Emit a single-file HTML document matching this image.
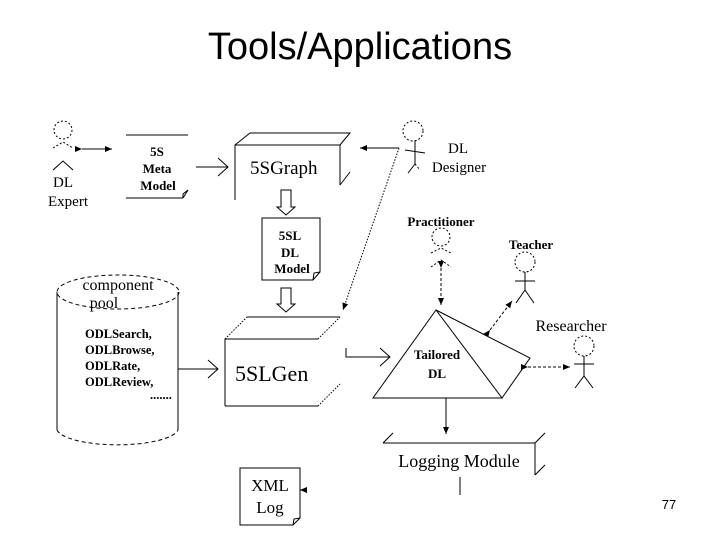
<!DOCTYPE html>
<html><head><meta charset="utf-8"><style>
html,body{margin:0;padding:0;background:#fff;width:720px;height:540px;overflow:hidden}
</style></head><body>
<svg width="720" height="540" viewBox="0 0 720 540" xmlns="http://www.w3.org/2000/svg">
<defs>
<marker id="a" markerWidth="8" markerHeight="8" refX="7" refY="4" orient="auto" markerUnits="userSpaceOnUse"><path d="M0,1 L7,4 L0,7 z" fill="#000"/></marker>
<marker id="o" markerWidth="14" markerHeight="20" refX="11" refY="10" orient="auto" markerUnits="userSpaceOnUse"><path d="M1,1 L11,10 L1,19" fill="none" stroke="#000"/></marker>
</defs>
<text x="360" y="59" font-family="Liberation Sans, sans-serif" font-size="38" text-anchor="middle">Tools/Applications</text>
<g fill="none" stroke="#000" stroke-width="1">
<circle cx="63" cy="130" r="9" stroke-dasharray="2,2"/>
<path d="M53,148 L63,142 L73,148" stroke-dasharray="2,2"/>
<path d="M53,170 L63,161 L73,170"/>
<line x1="82" y1="149" x2="112" y2="149" marker-end="url(#a)" marker-start="url(#a)"/>
<line x1="126" y1="135" x2="188" y2="135"/>
<line x1="126" y1="198" x2="183" y2="198"/>
<path d="M183,198 L188,190 M183,198 L183,194 L188,190" />
<line x1="196" y1="167" x2="228" y2="167" marker-end="url(#o)"/>
<path d="M235,200 L235,145 L340,145 L340,185"/>
<path d="M235,145 L250,133 L350,133 L340,145"/>
<path d="M340,185 L350,172"/>
<path d="M281,190 L291,190 L291,207 L295,207 L286,215 L277,207 L281,207 z"/>
<circle cx="413" cy="131" r="10" stroke-dasharray="2,2"/>
<path d="M415,141 L415,164 M405,150 L425,153 M415,164 L408,173"/>
<path d="M415,164 L420,170" stroke-dasharray="2,2"/>
<line x1="399" y1="148" x2="360" y2="148" marker-end="url(#a)"/>
<line x1="399" y1="148" x2="343" y2="310" stroke-dasharray="1.5,1.5" marker-end="url(#a)"/>
<path d="M262,218 L320,218 L320,272 L313,280 L262,280 z"/>
<path d="M313,280 L314,273 L320,272"/>
<path d="M281,288 L291,288 L291,304 L295,304 L286,312 L277,304 L281,304 z"/>
<path d="M225,406 L225,339 L318,339 M225,406 L318,406 M247,317 L340,317"/>
<path d="M225,339 L247,317 M318,339 L340,317 M318,406 L340,384" stroke-dasharray="1.5,1.5"/>
<path d="M57,292 L57,430 M178,292 L178,430"/>
<ellipse cx="118" cy="292" rx="61" ry="17" stroke-dasharray="4,3"/>
<path d="M57,430 A61,17 0 0 0 178,430" stroke-dasharray="4,3"/>
<line x1="178" y1="369" x2="218" y2="369" marker-end="url(#o)"/>
<circle cx="441" cy="237" r="9" stroke-dasharray="2,2"/>
<path d="M431,253 L441,248 L451,253" stroke-dasharray="2,2"/>
<path d="M431,267 L441,260 L451,267" stroke-dasharray="2,2"/>
<line x1="441" y1="268" x2="441" y2="305" stroke-dasharray="3,2" marker-end="url(#a)" marker-start="url(#a)"/>
<circle cx="525" cy="262" r="10" stroke-dasharray="2,2"/>
<path d="M525,272 L525,290 M515,281 L535,281 M525,290 L516,303 M525,290 L534,303"/>
<line x1="490" y1="330" x2="512" y2="301" stroke-dasharray="3,2" marker-end="url(#a)" marker-start="url(#a)"/>
<circle cx="584" cy="346" r="10" stroke-dasharray="2,2"/>
<path d="M584,356 L584,376 M574,364 L594,364 M584,376 L575,388 M584,376 L593,388"/>
<line x1="528" y1="367" x2="570" y2="367" stroke-dasharray="3,2" marker-end="url(#a)" marker-start="url(#a)"/>
<path d="M436,310 L373,398 L502,398 z"/>
<path d="M436,310 L530,358 L502,398"/>
<path d="M346,348 L346,357 L390,357" marker-end="url(#o)"/>
<line x1="446" y1="398" x2="446" y2="434" marker-end="url(#a)"/>
<path d="M383,443 L535,443 L535,475 M383,443 L393,433 M535,443 L545,433 M535,475 L545,465"/>
<line x1="460" y1="477" x2="460" y2="495"/>
<path d="M240,468 L300,468 L300,518 L293,525 L240,525 z"/>
<path d="M293,525 L294,519 L300,518"/>
<path d="M305,490 L300,490" marker-end="url(#a)"/>
</g>
<g font-family="Liberation Serif, serif" font-weight="bold" font-size="13" text-anchor="middle">
<text x="157" y="156">5S</text><text x="157" y="173">Meta</text><text x="158" y="190">Model</text>
<text x="290" y="240">5SL</text><text x="290" y="257">DL</text><text x="292" y="273">Model</text>
<text x="441" y="226">Practitioner</text>
<text x="531" y="249">Teacher</text>
<text x="437" y="359">Tailored</text><text x="437" y="378">DL</text>
</g>
<g font-family="Liberation Serif, serif" font-size="15" text-anchor="middle">
<text x="63" y="187">DL</text><text x="68" y="206">Expert</text>
<text x="458" y="153">DL</text><text x="459" y="172">Designer</text>
<text x="571" y="331" font-size="16">Researcher</text>
</g>
<g font-family="Liberation Serif, serif" font-weight="bold" font-size="12.5">
<text x="85" y="338">ODLSearch,</text><text x="85" y="354">ODLBrowse,</text><text x="85" y="370">ODLRate,</text><text x="85" y="386">ODLReview,</text>
<text x="150" y="399">.......</text>
</g>
<g font-family="Liberation Serif, serif">
<text x="118" y="290" font-size="16" text-anchor="middle">component</text>
<text x="104" y="308" font-size="16" text-anchor="middle">pool</text>
<text x="250" y="174" font-size="19">5SGraph</text>
<text x="235" y="381" font-size="22">5SLGen</text>
<text x="459" y="467" font-size="18" text-anchor="middle">Logging Module</text>
<text x="270" y="491" font-size="17" text-anchor="middle">XML</text>
<text x="270" y="513" font-size="17" text-anchor="middle">Log</text>
</g>
<text x="669" y="509" font-family="Liberation Sans, sans-serif" font-size="13" text-anchor="middle">77</text>
</svg>
</body></html>
